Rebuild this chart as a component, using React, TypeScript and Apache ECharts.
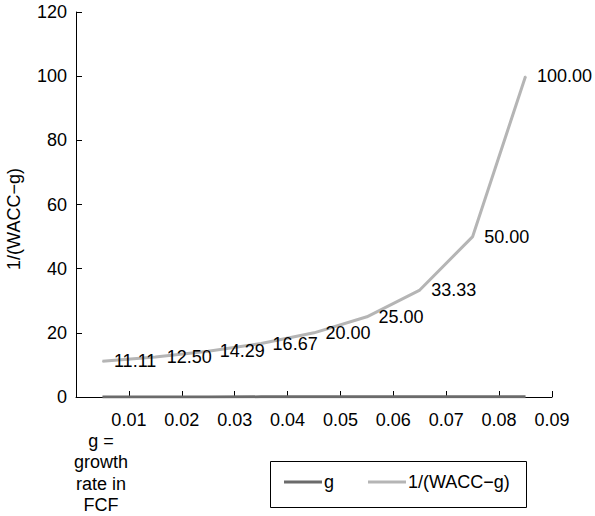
import React, { useEffect, useRef } from "react";
import * as echarts from "echarts";

const tickLabels = ["0.01", "0.02", "0.03", "0.04", "0.05", "0.06", "0.07", "0.08", "0.09"];
const gValues = [0.01, 0.02, 0.03, 0.04, 0.05, 0.06, 0.07, 0.08, 0.09];
const invValues = [11.11, 12.5, 14.29, 16.67, 20.0, 25.0, 33.33, 50.0, 100.0];
const seriesNames = ["g", "1/(WACC\u2212g)"];
const yAxisName = "1/(WACC\u2212g)";
const xAxisName = "g =\ngrowth\nrate in\nFCF";

const FONT = "'Liberation Sans', Arial, Helvetica, sans-serif";
const FS = 18;

export default function App() {
  const ref = useRef<HTMLDivElement>(null);
  useEffect(() => {
    if (!ref.current) return;
    const chart = echarts.init(ref.current, undefined, { renderer: "svg" });
    const toPts = (vals: number[]) => vals.map((v, i) => [i + 0.5, v]);
    chart.setOption({
      animation: false,
      backgroundColor: "#ffffff",
      textStyle: { fontFamily: FONT },
      grid: { left: 76, right: 43, top: 12, bottom: 119, containLabel: false },
      xAxis: {
        type: "value",
        min: 0,
        max: 9,
        interval: 1,
        axisLine: { show: true, lineStyle: { color: "#000", width: 1 } },
        axisTick: { show: true, inside: true, length: 6, lineStyle: { color: "#000" } },
        splitLine: { show: false },
        axisLabel: {
          color: "#000",
          fontSize: FS,
          fontFamily: FONT,
          margin: 14,
          formatter: (v: number) => (v >= 1 && v <= 9 ? tickLabels[Math.round(v) - 1] : ""),
        },
      },
      yAxis: {
        type: "value",
        min: 0,
        max: 120,
        interval: 20,
        axisLine: { show: true, lineStyle: { color: "#000", width: 1 } },
        axisTick: { show: true, inside: true, length: 6, lineStyle: { color: "#000" } },
        splitLine: { show: false },
        axisLabel: { color: "#000", fontSize: FS, fontFamily: FONT, margin: 9 },
      },
      legend: {
        left: 279,
        top: 468,
        icon: "rect",
        itemWidth: 38,
        itemHeight: 3,
        itemGap: 34,
        textStyle: { color: "#000", fontSize: FS, fontFamily: FONT, padding: [0, 0, 0, -3] },
        data: seriesNames,
      },
      graphic: [
        {
          type: "rect",
          shape: { x: 270.5, y: 461.5, width: 256, height: 46 },
          style: { fill: "none", stroke: "#000", lineWidth: 1 },
          silent: true,
        },
        {
          type: "text",
          x: 14,
          y: 219,
          rotation: Math.PI / 2,
          style: {
            text: yAxisName,
            fontSize: FS,
            fontFamily: FONT,
            fill: "#000",
            textAlign: "center",
            textVerticalAlign: "middle",
          },
        },
        {
          type: "text",
          x: 101,
          y: 430,
          style: {
            text: xAxisName,
            fontSize: FS,
            lineHeight: 21.5,
            fontFamily: FONT,
            fill: "#000",
            textAlign: "center",
            textVerticalAlign: "top",
          },
        },
      ],
      series: [
        {
          name: seriesNames[0],
          type: "line",
          data: toPts(gValues),
          showSymbol: false,
          symbol: "none",
          lineStyle: { color: "#6b6b6b", width: 3 },
          itemStyle: { color: "#6b6b6b" },
        },
        {
          name: seriesNames[1],
          type: "line",
          data: toPts(invValues),
          showSymbol: true,
          symbol: "circle",
          symbolSize: 1,
          lineStyle: { color: "#b5b5b5", width: 3 },
          itemStyle: { color: "#b5b5b5" },
          label: {
            show: true,
            position: "right",
            distance: 11,
            color: "#000",
            fontSize: FS,
            fontFamily: FONT,
            formatter: (p: any) => Number(p.value[1]).toFixed(2),
          },
          labelLayout: { hideOverlap: false },
        },
      ],
    });
    return () => chart.dispose();
  }, []);
  return (
    <div
      ref={ref}
      style={{ position: "absolute", left: 0, top: 0, width: 595, height: 516 }}
    />
  );
}
